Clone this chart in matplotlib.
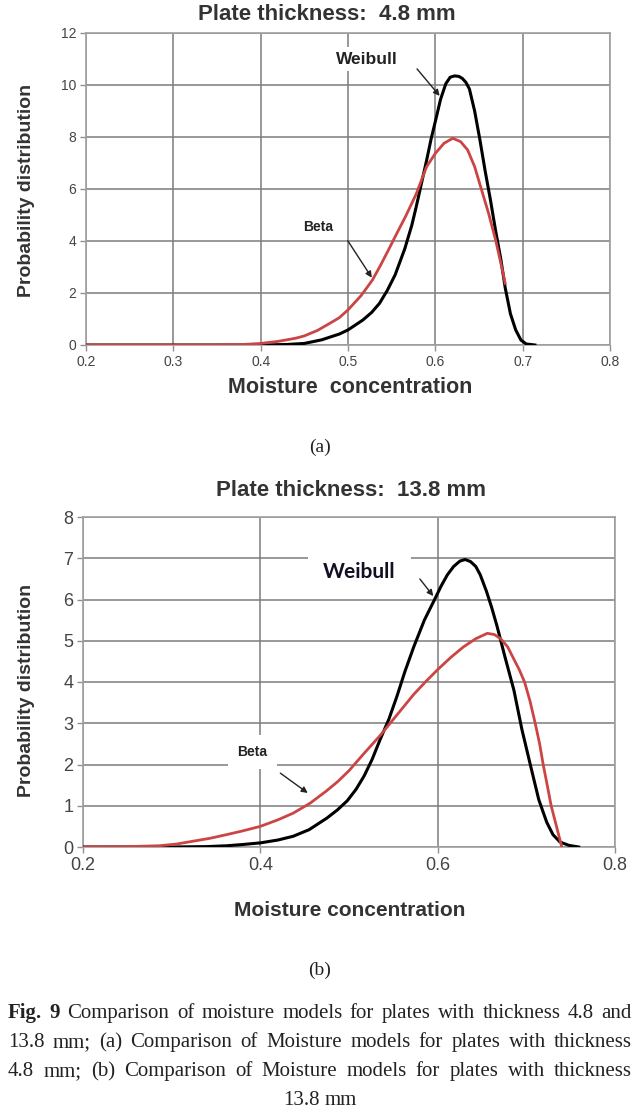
import matplotlib
matplotlib.use('Agg')
import matplotlib.pyplot as plt

# panel (a): plate thickness 4.8 mm
a_weibull_x = [0.20, 0.40, 0.43, 0.45, 0.47, 0.479, 0.49, 0.50, 0.517, 0.527, 0.536,
               0.545, 0.554, 0.565, 0.573, 0.578, 0.584, 0.590, 0.595, 0.600, 0.606,
               0.612, 0.617, 0.622, 0.627, 0.631, 0.635, 0.639, 0.645, 0.651, 0.657,
               0.663, 0.669, 0.675, 0.680, 0.686, 0.692, 0.698, 0.704, 0.714]
a_weibull_y = [0.0, 0.0, 0.02, 0.06, 0.2, 0.3, 0.42, 0.58, 0.96, 1.25, 1.6,
               2.1, 2.7, 3.7, 4.6, 5.3, 6.2, 7.1, 7.9, 8.6, 9.45,
               10.05, 10.3, 10.35, 10.33, 10.25, 10.1, 9.85, 9.0, 7.9, 6.7,
               5.6, 4.4, 3.3, 2.2, 1.2, 0.58, 0.19, 0.04, 0.0]
a_beta_x = [0.20, 0.35, 0.38, 0.40, 0.42, 0.44, 0.45, 0.465, 0.479, 0.49, 0.50,
            0.515, 0.528, 0.537, 0.547, 0.556, 0.566, 0.578, 0.590, 0.600, 0.610,
            0.620, 0.629, 0.637, 0.645, 0.653, 0.661, 0.669, 0.676, 0.680]
a_beta_y = [0.0, 0.0, 0.02, 0.06, 0.14, 0.26, 0.35, 0.56, 0.83, 1.05, 1.35,
            1.9, 2.5, 3.05, 3.7, 4.3, 4.95, 5.8, 6.86, 7.37, 7.76,
            7.95, 7.82, 7.5, 6.86, 5.96, 5.06, 4.04, 3.0, 2.37]

# panel (b): plate thickness 13.8 mm
b_weibull_x = [0.20, 0.30, 0.34, 0.362, 0.38, 0.40, 0.42, 0.437, 0.455, 0.475, 0.487,
               0.498, 0.508, 0.517, 0.526, 0.535, 0.545, 0.554, 0.563, 0.573, 0.585,
               0.597, 0.604, 0.611, 0.618, 0.625, 0.631, 0.637, 0.643, 0.648, 0.655,
               0.661, 0.667, 0.676, 0.686, 0.695, 0.705, 0.714, 0.723, 0.730, 0.738,
               0.748, 0.759]
b_weibull_y = [0.0, 0.0, 0.01, 0.03, 0.06, 0.1, 0.17, 0.26, 0.42, 0.7, 0.9,
               1.12, 1.4, 1.72, 2.12, 2.6, 3.1, 3.65, 4.25, 4.85, 5.5,
               6.02, 6.33, 6.6, 6.8, 6.93, 6.97, 6.92, 6.8, 6.6, 6.2,
               5.8, 5.35, 4.6, 3.8, 2.85, 1.95, 1.15, 0.6, 0.3, 0.12,
               0.04, 0.0]
b_beta_x = [0.20, 0.25, 0.286, 0.305, 0.324, 0.343, 0.362, 0.38, 0.40, 0.42, 0.437,
            0.456, 0.474, 0.487, 0.50, 0.517, 0.535, 0.554, 0.573, 0.587, 0.60,
            0.615, 0.629, 0.643, 0.656, 0.664, 0.671, 0.679, 0.686, 0.692, 0.698,
            0.704, 0.710, 0.715, 0.719, 0.724, 0.728, 0.734, 0.740]
b_beta_y = [0.0, 0.01, 0.03, 0.07, 0.14, 0.21, 0.3, 0.39, 0.5, 0.66, 0.82,
            1.06, 1.35, 1.58, 1.85, 2.27, 2.7, 3.2, 3.7, 4.02, 4.3,
            4.6, 4.85, 5.05, 5.18, 5.15, 5.05, 4.85, 4.55, 4.3, 4.0,
            3.55, 3.0, 2.5, 2.0, 1.45, 1.0, 0.5, 0.0]

a_xticks = [0.2, 0.3, 0.4, 0.5, 0.6, 0.7, 0.8]
a_yticks = [0, 2, 4, 6, 8, 10, 12]
b_xticks = [0.2, 0.4, 0.6, 0.8]
b_yticks = [0, 1, 2, 3, 4, 5, 6, 7, 8]

caption_lines = [
    "Fig. 9 Comparison of moisture models for plates with thickness 4.8 and",
    "13.8 mm; (a) Comparison of Moisture models for plates with thickness",
    "4.8 mm; (b) Comparison of Moisture models for plates with thickness",
    "13.8 mm",
]

W, H = 640, 1119
RED = '#cc4444'
GRID = '#7c7c7c'
TXT = '#333333'

fig = plt.figure(figsize=(W / 100, H / 100), dpi=100)
plt.rcParams['font.family'] = ['Liberation Sans', 'DejaVu Sans']


def px_axes(left, top, right, bottom):
    return fig.add_axes([left / W, 1 - bottom / H, (right - left) / W, (bottom - top) / H])


def style(ax, xticks, yticks, size):
    ax.set_xlim(0.2, 0.8)
    ax.set_ylim(yticks[0], yticks[-1])
    ax.set_xticks(xticks)
    ax.set_xticklabels(['%.1f' % v for v in xticks])
    ax.set_yticks(yticks)
    ax.grid(True, color=GRID, lw=1.1)
    ax.set_axisbelow(True)
    for s in ax.spines.values():
        s.set_color('#a0a0a0')
        s.set_linewidth(1.2)
    ax.tick_params(direction='out', length=4, width=1, color='#909090',
                   labelsize=size, labelcolor='#444444', pad=3)


# ---- (a)
ax1 = px_axes(86, 33, 610, 345)
style(ax1, a_xticks, a_yticks, 10)
ax1.plot(a_weibull_x, a_weibull_y, color='black', lw=2.2, zorder=3)
ax1.plot(a_beta_x, a_beta_y, color=RED, lw=2.0, zorder=4)
ax1.text(0.522, 11.0, 'Weibull', fontsize=12.5, fontweight='bold', color='#222222',
         ha='center', va='center', zorder=5,
         bbox=dict(fc='white', ec='none', pad=3))
ax1.annotate('', xy=(0.607, 9.5), xytext=(0.577, 10.7), zorder=6,
             arrowprops=dict(arrowstyle='-|>', color='#222222', lw=1, mutation_scale=9))
ax1.text(0.466, 4.55, 'Beta', fontsize=10, fontweight='bold', color='#222222',
         ha='center', va='center', zorder=5,
         bbox=dict(fc='white', ec='none', pad=4))
ax1.annotate('', xy=(0.529, 2.5), xytext=(0.498, 4.1), zorder=6,
             arrowprops=dict(arrowstyle='-|>', color='#222222', lw=1, mutation_scale=9))
fig.text(327 / W, 1 - 14 / H, 'Plate thickness:  4.8 mm', fontsize=16, fontweight='bold',
         color=TXT, ha='center', va='center')
fig.text(350 / W, 1 - 388 / H, 'Moisture  concentration', fontsize=15.5, fontweight='bold',
         color=TXT, ha='center', va='center')
fig.text(27 / W, 1 - 190 / H, 'Probability distribution', fontsize=14, fontweight='bold',
         color=TXT, ha='center', va='center', rotation=90)
fig.text(0.5, 1 - 447 / H, '(a)', fontsize=14, family='Liberation Serif', color='#222222',
         ha='center', va='center')

# ---- (b)
ax2 = px_axes(83, 517, 615, 847)
style(ax2, b_xticks, b_yticks, 13)
ax2.plot(b_weibull_x, b_weibull_y, color='black', lw=2.2, zorder=3)
ax2.plot(b_beta_x, b_beta_y, color=RED, lw=2.0, zorder=4)
ax2.text(0.512, 6.67, 'Weibull', fontsize=15, fontweight='bold', family='Lato',
         color='#111122', ha='center', va='center', zorder=5,
         bbox=dict(fc='white', ec='none', pad=11))
ax2.annotate('', xy=(0.597, 6.03), xytext=(0.578, 6.55), zorder=6,
             arrowprops=dict(arrowstyle='-|>', color='#222222', lw=1, mutation_scale=9))
ax2.text(0.391, 2.3, 'Beta', fontsize=10, fontweight='bold', color='#222222',
         ha='center', va='center', zorder=5,
         bbox=dict(fc='white', ec='none', pad=7))
ax2.annotate('', xy=(0.456, 1.27), xytext=(0.42, 1.83), zorder=6,
             arrowprops=dict(arrowstyle='-|>', color='#222222', lw=1, mutation_scale=9))
fig.text(351 / W, 1 - 491 / H, 'Plate thickness:  13.8 mm', fontsize=16, fontweight='bold',
         color=TXT, ha='center', va='center')
fig.text(350 / W, 1 - 910 / H, 'Moisture concentration', fontsize=15, fontweight='bold',
         color=TXT, ha='center', va='center')
fig.text(27 / W, 1 - 690 / H, 'Probability distribution', fontsize=14, fontweight='bold',
         color=TXT, ha='center', va='center', rotation=90)
fig.text(0.5, 1 - 970 / H, '(b)', fontsize=14, family='Liberation Serif', color='#222222',
         ha='center', va='center')

# ---- caption, justified between x=8 and x=632
renderer = fig.canvas.get_renderer()
line_base = [1018, 1047, 1076, 1105]
for i, line in enumerate(caption_lines):
    words = line.split(' ')
    texts = []
    for j, w in enumerate(words):
        bold = (i == 0 and j < 2)
        t = fig.text(0, 1 - line_base[i] / H, w, fontsize=15, family='Liberation Serif',
                     fontweight='bold' if bold else 'normal', color='#222222',
                     ha='left', va='baseline')
        texts.append(t)
    widths = [t.get_window_extent(renderer).width for t in texts]
    if i < len(caption_lines) - 1:
        gap = (624 - sum(widths)) / (len(words) - 1)
        x = 8
    else:
        gap = 4
        x = 320 - (sum(widths) + gap * (len(words) - 1)) / 2
    for t, w in zip(texts, widths):
        t.set_x(x / W)
        x += w + gap

fig.savefig('out.png', dpi=100)
